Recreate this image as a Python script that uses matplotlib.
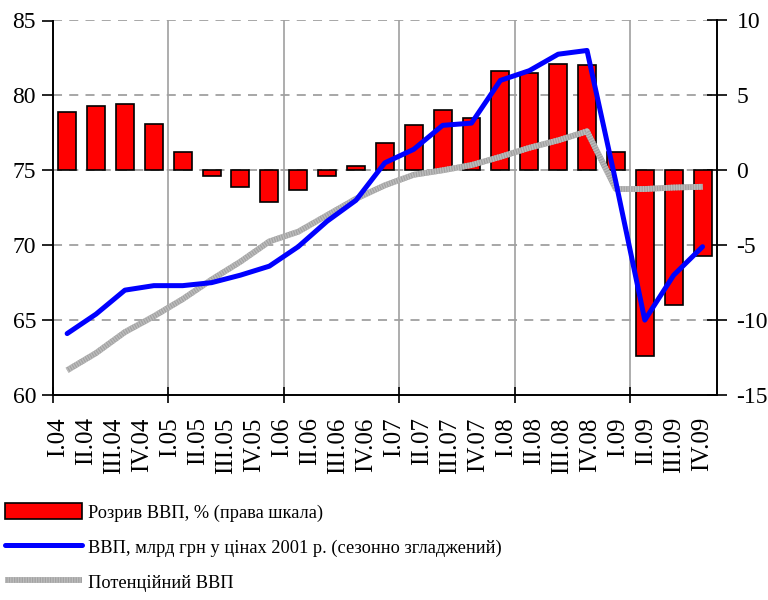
import numpy as np
import matplotlib
matplotlib.use("Agg")
import matplotlib.pyplot as plt
from matplotlib.legend_handler import HandlerTuple

plt.rcParams['font.family'] = ['Liberation Serif', 'DejaVu Serif']

# ---- data ----
quarter_labels = ["I.04", "II.04", "III.04", "IV.04",
                  "I.05", "II.05", "III.05", "IV.05",
                  "I.06", "II.06", "III.06", "IV.06",
                  "I.07", "II.07", "III.07", "IV.07",
                  "I.08", "II.08", "III.08", "IV.08",
                  "I.09", "II.09", "III.09", "IV.09"]

gdp_gap = [3.9, 4.3, 4.4, 3.1, 1.2, -0.4, -1.1, -2.1, -1.3, -0.4, 0.3, 1.8,
           3.0, 4.0, 3.5, 6.6, 6.5, 7.1, 7.0, 1.2, -12.4, -9.0, -5.7]

gdp = [64.1, 65.4, 67.0, 67.3, 67.3, 67.5, 68.0, 68.6, 69.9, 71.6, 73.0, 75.5,
       76.4, 78.0, 78.15, 81.0, 81.65, 82.75, 83.0, 74.2, 65.0, 68.0, 69.9]

potential_gdp = [61.65, 62.8, 64.2, 65.25, 66.4, 67.7, 68.9, 70.25, 70.9, 72.0, 73.1, 74.0,
                 74.7, 75.0, 75.35, 75.9, 76.5, 77.0, 77.6, 73.75, 73.75, 73.85, 73.9]

legend_labels = ["Розрив ВВП, % (права шкала)",
                 "ВВП, млрд грн у цінах 2001 р. (сезонно згладжений)",
                 "Потенційний ВВП"]

left_ticks = [60, 65, 70, 75, 80, 85]
right_ticks = [-15, -10, -5, 0, 5, 10]

# ---- figure ----
W, H = 768, 600
fig = plt.figure(figsize=(W / 100, H / 100), dpi=100)
x0, x1, ytop, ybot = 52.7, 717, 20.5, 395
ax = fig.add_axes([x0 / W, 1 - ybot / H, (x1 - x0) / W, (ybot - ytop) / H])
ax2 = ax.twinx()

n = len(gdp)
xc = np.arange(n) + 0.5

# bars on the right axis (drawn underneath)
bars = ax2.bar(xc, gdp_gap, width=0.62, color='#ff0000', edgecolor='black',
               linewidth=1.2, zorder=3)
ax2.set_ylim(-15, 10)
ax2.set_yticks(right_ticks)
ax2.set_yticklabels([str(t) for t in right_ticks])

# grid on the bottom axes
for yv in right_ticks[1:]:
    ax2.axhline(yv, color='#a0a0a0', lw=1.3, ls=(0, (5, 4)), zorder=1)
for xv in [4, 8, 12, 16, 20]:
    ax2.axvline(xv, color='#a0a0a0', lw=1.2, zorder=1)

# lines on the left axis (on top)
ax.set_zorder(ax2.get_zorder() + 1)
ax.patch.set_visible(False)
grey_base, = ax.plot(xc, potential_gdp, color='#a2a2a2', lw=4.2,
                     solid_capstyle='butt', zorder=4)
grey_tex, = ax.plot(xc, potential_gdp, color='#bdbdbd', lw=4.2,
                    ls=(0, (0.22, 0.22)), dash_capstyle='butt', zorder=5)
blue, = ax.plot(xc, gdp, color='#0000ff', lw=3.6, solid_joinstyle='round',
                solid_capstyle='round', zorder=6)

ax.set_ylim(60, 85)
ax.set_yticks(left_ticks)
ax.set_yticklabels([str(t) for t in left_ticks])
ax.set_xlim(0, n)

# x ticks: major at year boundaries, labels as minor ticks
ax.set_xticks([0, 4, 8, 12, 16, 20])
ax.set_xticklabels([])
ax.set_xticks(np.linspace(0.2, 22.5, len(quarter_labels)), minor=True)
ax.set_xticklabels(quarter_labels, minor=True, rotation=90, fontsize=18,
                   va='top', ha='center')
ax.tick_params(axis='x', which='major', direction='inout', length=11, width=1.2)
ax.tick_params(axis='x', which='minor', length=0, pad=16)
ax.tick_params(axis='y', direction='out', length=8, width=1.2, labelsize=17, pad=4)
ax2.tick_params(axis='y', direction='inout', length=14, width=1.2, labelsize=17, pad=7)
ax2.tick_params(axis='x', length=0)

for a in (ax, ax2):
    a.spines['top'].set_visible(False)
    for s in ('left', 'right', 'bottom'):
        a.spines[s].set_linewidth(1.4)
ax.spines['right'].set_visible(False)
ax2.spines['left'].set_visible(False)
ax2.spines['bottom'].set_visible(False)

fig.legend(handles=[bars, blue, (grey_base, grey_tex)], labels=legend_labels,
           handler_map={tuple: HandlerTuple(ndivide=1)},
           loc='upper left', bbox_to_anchor=(5 / W, 1 - 503 / H),
           frameon=False, fontsize=13.2, handlelength=4.2, handleheight=1.0,
           labelspacing=0.9, handletextpad=0.35, borderpad=0, borderaxespad=0)

fig.savefig('out.png', dpi=100)
